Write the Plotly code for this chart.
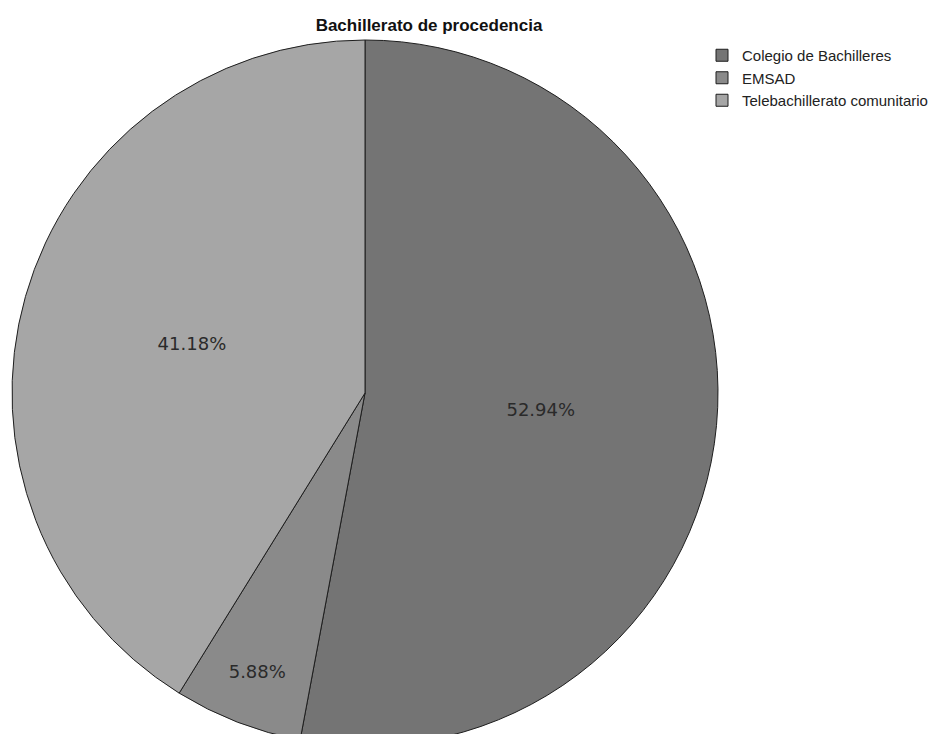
import plotly.graph_objects as go

categories = ["Colegio de Bachilleres", "EMSAD", "Telebachillerato comunitario"]
counts = [9, 1, 7]
colors = ["#747474", "#8a8a8a", "#a6a6a6"]
title_text = "Bachillerato de procedencia"

W, H = 949, 760

fig = go.Figure(
    go.Pie(
        labels=categories,
        values=counts,
        sort=False,
        direction="clockwise",
        rotation=0,
        marker=dict(colors=colors, line=dict(color="#1e1e1e", width=1)),
        texttemplate="%{percent:.2%}",
        textposition="inside",
        insidetextorientation="horizontal",
        textfont=dict(family="DejaVu Sans", size=18, color="#2a2a2a"),
        domain=dict(x=[4 / W, 710 / W], y=[1 - 738 / H, 1 - 32 / H]),
        hoverinfo="label+percent",
    )
)

fig.update_layout(
    width=W,
    height=H,
    margin=dict(l=0, r=0, t=0, b=0),
    paper_bgcolor="white",
    plot_bgcolor="white",
    title=dict(
        text="<b>" + title_text + "</b>",
        x=421 / W,
        xanchor="center",
        y=1 - 17 / H,
        yanchor="middle",
        font=dict(family="Liberation Sans, Arial", size=17, color="#111111"),
    ),
    showlegend=True,
    legend=dict(
        x=694 / W,
        xanchor="left",
        y=1 - 31 / H,
        yanchor="top",
        font=dict(family="Liberation Sans, Arial", size=15, color="#222222"),
        bgcolor="rgba(0,0,0,0)",
        itemwidth=30,
        tracegroupgap=0,
    ),
)

fig.write_html("out.html")
